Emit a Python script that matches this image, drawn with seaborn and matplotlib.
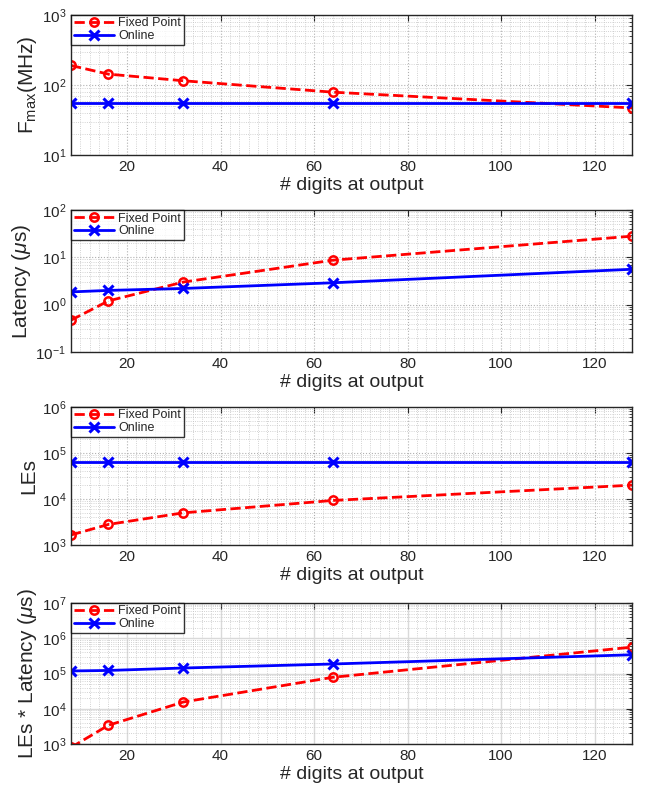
import numpy as np
import pandas as pd
import matplotlib
matplotlib.use("Agg")
import matplotlib.pyplot as plt
import seaborn as sns
from matplotlib.ticker import LogLocator, NullFormatter

sns.set_style("white")
plt.rcParams['font.family'] = ['Liberation Sans', 'DejaVu Sans']
plt.rcParams['mathtext.fontset'] = 'custom'
plt.rcParams['mathtext.rm'] = 'Liberation Sans'
plt.rcParams['mathtext.it'] = 'Liberation Sans:italic'

# ===== Data =====
digits = [8, 16, 32, 64, 128]

fmax_fixed = [190, 143, 115, 79, 47]
fmax_online = [55, 55, 55, 55, 55]

lat_fixed = [0.47, 1.2, 3.0, 8.7, 28]
lat_online = [1.86, 2.0, 2.2, 2.9, 5.6]

les_fixed = [1650, 2800, 5000, 9300, 20000]
les_online = [65000, 65000, 65000, 65000, 65000]

prod_fixed = [800, 3400, 15500, 78000, 560000]
prod_online = [118000, 122000, 143000, 186000, 340000]

panels = [
    ("F$_{\\mathrm{max}}$(MHz)", fmax_fixed, fmax_online, (10, 1000), False),
    ("Latency ($\\mu$s)", lat_fixed, lat_online, (0.1, 100), False),
    ("LEs", les_fixed, les_online, (1e3, 1e6), False),
    ("LEs * Latency ($\\mu$s)", prod_fixed, prod_online, (1e3, 1e7), True),
]

# axes boxes in pixels (top, bottom) on a 646x785 canvas
W, H = 646, 785
boxes = [(15, 155), (210, 352), (407, 545), (603, 744)]
left, right = 71, 632

fig = plt.figure(figsize=(W / 100, H / 100), dpi=100)

for (ylabel, fixed, online, ylim, major_solid), (top, bottom) in zip(panels, boxes):
    ax = fig.add_axes([left / W, 1 - bottom / H, (right - left) / W, (bottom - top) / H])
    df = pd.DataFrame({"digits": digits, "fixed": fixed, "online": online})

    sns.lineplot(data=df, x="digits", y="fixed", ax=ax, color="red", linestyle="--",
                 linewidth=2, marker="o", markersize=6, markerfacecolor="none",
                 markeredgecolor="red", markeredgewidth=1.8, label="Fixed Point",
                 dashes=(4, 2.5))
    sns.lineplot(data=df, x="digits", y="online", ax=ax, color="blue", linestyle="-",
                 linewidth=2, marker="x", markersize=6.5, markeredgecolor="blue",
                 markeredgewidth=2.2, label="Online")

    ax.set_yscale("log")
    ax.set_xlim(8, 128)
    ax.set_ylim(*ylim)
    ax.set_xticks([20, 40, 60, 80, 100, 120])
    ax.yaxis.set_major_locator(LogLocator(base=10, numticks=10))
    ax.yaxis.set_minor_locator(LogLocator(base=10, subs=np.arange(2, 10), numticks=20))
    ax.yaxis.set_minor_formatter(NullFormatter())
    ax.xaxis.set_minor_locator(plt.MultipleLocator(2))

    if major_solid:
        ax.grid(True, which="major", color="#d9d9d9", linestyle="-", linewidth=1.0)
    else:
        ax.grid(True, which="major", color="#b0b0b0", linestyle=":", linewidth=0.8)
    ax.grid(True, which="minor", color="#c4c4c4", linestyle=":", linewidth=0.6)
    ax.set_axisbelow(True)

    ax.tick_params(which="both", direction="in", top=True, right=True, labelsize=11,
                   colors="#262626")
    ax.tick_params(which="major", length=4)
    ax.tick_params(which="minor", length=2)
    ax.tick_params(axis="x", which="minor", length=0)
    for s in ax.spines.values():
        s.set_color("#262626")
        s.set_linewidth(1.0)

    ax.set_xlabel("# digits at output", fontsize=14, color="#262626", labelpad=2)
    ax.set_ylabel(ylabel, fontsize=15, color="#262626", labelpad=2)

    leg = ax.legend(loc="upper left", fontsize=9, frameon=True, fancybox=False,
                    borderpad=0.2, handlelength=3.2, handletextpad=0.4,
                    labelspacing=0.05, borderaxespad=0.0)
    leg.get_frame().set_edgecolor("black")
    leg.get_frame().set_linewidth(1.0)

fig.savefig("out.png", dpi=100)
